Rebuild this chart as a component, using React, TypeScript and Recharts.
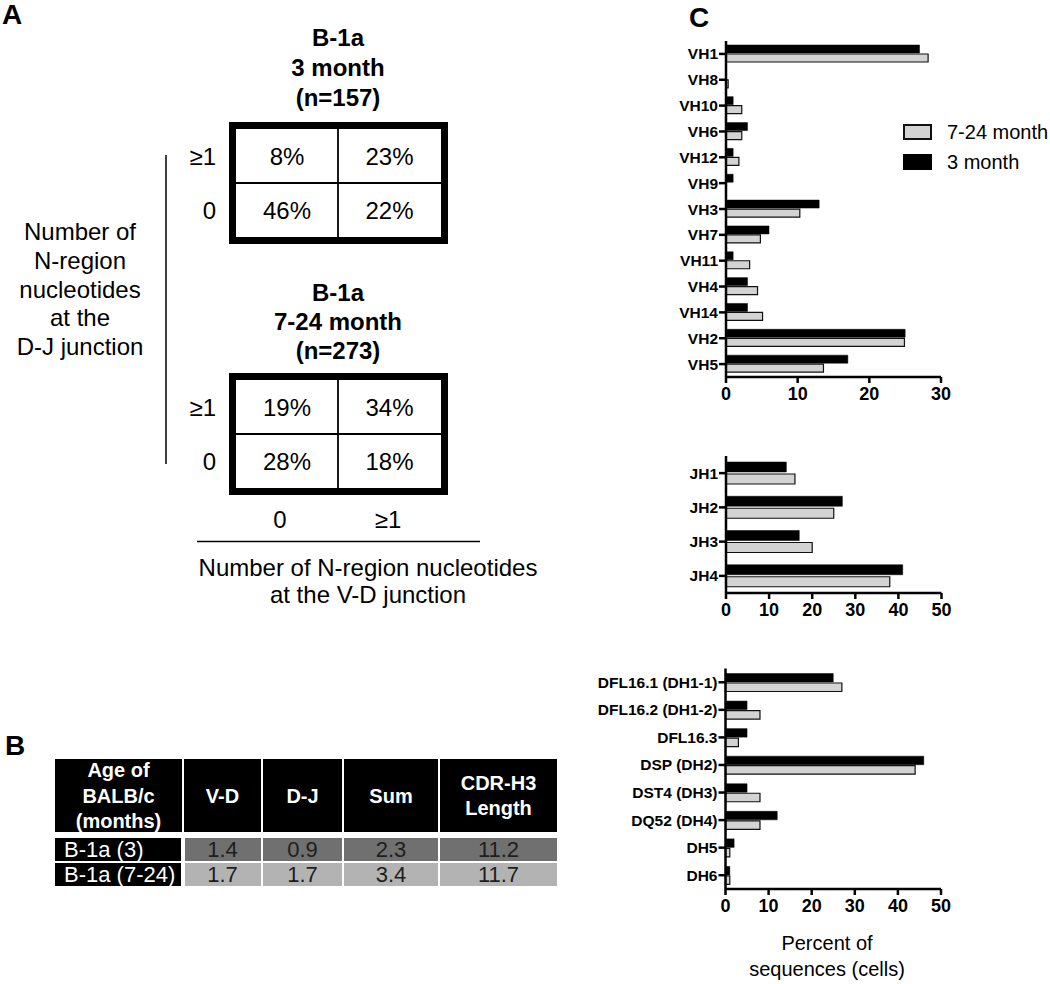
import { Bar, BarChart, XAxis, YAxis } from 'recharts';

const FONT = 'Arial, "Liberation Sans", Helvetica, sans-serif';

// panel C — percent of sequences per gene segment
const vhGenes = ['VH1', 'VH8', 'VH10', 'VH6', 'VH12', 'VH9', 'VH3', 'VH7', 'VH11', 'VH4', 'VH14', 'VH2', 'VH5'];
const vhYoung = [27, 0, 1, 3, 1, 1, 13, 6, 1, 3, 3, 25, 17];
const vhOld = [28.2, 0.3, 2.2, 2.2, 1.8, 0, 10.3, 4.8, 3.3, 4.4, 5.1, 24.9, 13.6];

const jhGenes = ['JH1', 'JH2', 'JH3', 'JH4'];
const jhYoung = [14, 27, 17, 41];
const jhOld = [16, 25, 20, 38];

const dhGenes = ['DFL16.1 (DH1-1)', 'DFL16.2 (DH1-2)', 'DFL16.3', 'DSP (DH2)', 'DST4 (DH3)', 'DQ52 (DH4)', 'DH5', 'DH6'];
const dhYoung = [25, 5, 5, 46, 5, 12, 2, 1];
const dhOld = [27, 8, 3, 44, 8, 8, 1, 1];

const seriesNames = ['7-24 month', '3 month'];

// panel A — junction tables
const junctionTitles = [
  ['B-1a', '3 month', '(n=157)'],
  ['B-1a', '7-24 month', '(n=273)'],
];
const junctionCells = [
  [['8%', '23%'], ['46%', '22%']],
  [['19%', '34%'], ['28%', '18%']],
];
const rowLabels = ['≥1', '0'];
const colLabels = ['0', '≥1'];
const djLabel = ['Number of', 'N-region', 'nucleotides', 'at the', 'D-J junction'];
const vdLabel = ['Number of N-region nucleotides', 'at the V-D junction'];

// panel B — mean N additions
const bHeaders = [['Age of', 'BALB/c', '(months)'], ['V-D'], ['D-J'], ['Sum'], ['CDR-H3', 'Length']];
const bRows = ['B-1a (3)', 'B-1a (7-24)'];
const bVD = [1.4, 1.7];
const bDJ = [0.9, 1.7];
const bSum = [2.3, 3.4];
const bCDR = [11.2, 11.7];

type GeneRow = { gene: string; young: number; old: number };

const toRows = (genes: string[], young: number[], old: number[]): GeneRow[] =>
  genes.map((gene, i) => ({ gene, young: young[i], old: old[i] }));

interface GenePlotProps {
  rows: GeneRow[];
  max: number;
  ticks: number[];
  left: number;
  top: number;
  width: number;
  height: number;
  yWidth: number;
  marginTop: number;
  marginRight: number;
  barSize: number;
  barGap: number;
}

const axisStroke = { stroke: '#000', strokeWidth: 2.5 };

const GenePlot = ({
  rows,
  max,
  ticks,
  left,
  top,
  width,
  height,
  yWidth,
  marginTop,
  marginRight,
  barSize,
  barGap,
}: GenePlotProps) => (
  <div style={{ position: 'absolute', left, top }}>
    <BarChart
      width={width}
      height={height}
      data={rows}
      layout='vertical'
      barSize={barSize}
      barGap={barGap}
      margin={{ top: marginTop, right: marginRight, left: 0, bottom: 0 }}
    >
      <XAxis
        type='number'
        domain={[0, max]}
        ticks={ticks}
        axisLine={axisStroke}
        tickLine={axisStroke}
        tickSize={6}
        tickMargin={4}
        height={30}
        tick={{ fill: '#000', fontSize: 18, fontWeight: 'bold', fontFamily: FONT }}
      />
      <YAxis
        type='category'
        dataKey='gene'
        width={yWidth}
        interval={0}
        axisLine={axisStroke}
        tickLine={axisStroke}
        tickSize={7}
        tickMargin={1}
        tick={{ fill: '#000', fontSize: 15.5, fontWeight: 'bold', fontFamily: FONT }}
      />
      <Bar dataKey='young' fill='#000' stroke='#000' strokeWidth={0.5} isAnimationActive={false} />
      <Bar dataKey='old' fill='#d3d3d3' stroke='#111' strokeWidth={1.2} isAnimationActive={false} />
    </BarChart>
  </div>
);

const PanelA = () => {
  const tableTops = [122, 373];
  const titleBase = [[46, 76, 106], [301, 330, 359]];
  return (
    <g fontFamily={FONT} fill='#000'>
      <text x={2} y={24} fontSize={28} fontWeight='bold'>A</text>
      {junctionTitles.map((lines, t) =>
        lines.map((line, i) => (
          <text key={`${t}-${i}`} x={338} y={titleBase[t][i]} fontSize={24} fontWeight='bold' textAnchor='middle'>
            {line}
          </text>
        )),
      )}
      {tableTops.map((y0, t) => {
        const mid = y0 + 61;
        return (
          <g key={t}>
            <rect x={232.5} y={y0 + 3.5} width={212} height={115} fill='#fff' stroke='#000' strokeWidth={7} />
            <line x1={338} x2={338} y1={y0 + 7} y2={y0 + 115} stroke='#000' strokeWidth={1.8} />
            <line x1={236} x2={441} y1={mid} y2={mid} stroke='#000' strokeWidth={1.8} />
            {junctionCells[t].map((row, r) => {
              const cy = r === 0 ? (y0 + 7 + mid) / 2 : (mid + y0 + 115) / 2;
              return (
                <g key={r}>
                  <text x={216} y={cy + 8.6} fontSize={24} textAnchor='end'>{rowLabels[r]}</text>
                  {row.map((v, c) => (
                    <text key={c} x={c === 0 ? 287 : 389.5} y={cy + 8.6} fontSize={24} textAnchor='middle'>
                      {v}
                    </text>
                  ))}
                </g>
              );
            })}
          </g>
        );
      })}
      <line x1={166} x2={166} y1={155} y2={464} stroke='#000' strokeWidth={1.5} />
      {djLabel.map((line, i) => (
        <text key={i} x={80} y={240 + i * 28.8} fontSize={24} textAnchor='middle'>{line}</text>
      ))}
      {colLabels.map((l, i) => (
        <text key={i} x={i === 0 ? 280 : 388} y={528} fontSize={24} textAnchor='middle'>{l}</text>
      ))}
      <line x1={197} x2={480} y1={541.5} y2={541.5} stroke='#000' strokeWidth={1.5} />
      {vdLabel.map((line, i) => (
        <text key={i} x={368} y={576 + i * 27} fontSize={24} textAnchor='middle'>{line}</text>
      ))}
    </g>
  );
};

const PanelB = () => {
  const cols = [
    [55, 182],
    [184, 261],
    [263, 342],
    [344, 438],
    [440, 557],
  ];
  const rowY = [[838, 861], [863, 886]];
  const rowFill = ['#707070', '#b3b3b3'];
  const values = [bVD, bDJ, bSum, bCDR];
  return (
    <g fontFamily={FONT}>
      <text x={5} y={755} fontSize={28} fontWeight='bold' fill='#000'>B</text>
      {cols.map(([x0, x1], c) => {
        const lines = bHeaders[c];
        const first = 795.5 - ((lines.length - 1) * 25.5) / 2;
        return (
          <g key={c}>
            <rect x={x0} y={759} width={x1 - x0} height={73} fill='#000' />
            {lines.map((l, i) => (
              <text
                key={i}
                x={(x0 + x1) / 2}
                y={first + i * 25.5 + 7.2}
                fontSize={20}
                fontWeight='bold'
                fill='#fff'
                textAnchor='middle'
              >
                {l}
              </text>
            ))}
          </g>
        );
      })}
      {bRows.map((label, r) => {
        const [y0, y1] = rowY[r];
        const cy = (y0 + y1) / 2;
        return (
          <g key={r}>
            <rect x={55} y={y0} width={126} height={y1 - y0} fill='#000' />
            <text x={64} y={cy + 7.8} fontSize={22} fill='#fff'>{label}</text>
            {values.map((vals, c) => {
              const [x0, x1] = cols[c + 1];
              const xs = c === 0 ? x0 + 1 : x0;
              return (
                <g key={c}>
                  <rect x={xs} y={y0} width={x1 - xs} height={y1 - y0} fill={rowFill[r]} />
                  <text x={(x0 + x1) / 2} y={cy + 7.8} fontSize={22} fill='#1e1e1e' textAnchor='middle'>
                    {vals[r].toFixed(1)}
                  </text>
                </g>
              );
            })}
          </g>
        );
      })}
    </g>
  );
};

const PanelCOverlay = () => (
  <g fontFamily={FONT} fill='#000'>
    <text x={689} y={27} fontSize={28} fontWeight='bold'>C</text>
    <rect x={904} y={125} width={27} height={14} fill='#d3d3d3' stroke='#111' strokeWidth={2} />
    <rect x={903} y={154} width={29} height={16} fill='#000' />
    <text x={947} y={139} fontSize={20}>{seriesNames[0]}</text>
    <text x={947} y={168.5} fontSize={20}>{seriesNames[1]}</text>
    <text x={827} y={950} fontSize={20} textAnchor='middle'>Percent of</text>
    <text x={827} y={976} fontSize={20} textAnchor='middle'>sequences (cells)</text>
  </g>
);

export default function App() {
  return (
    <div
      style={{
        position: 'absolute',
        left: 0,
        top: 0,
        width: 1050,
        height: 984,
        background: '#fff',
        fontFamily: FONT,
      }}
    >
      <svg width={1050} height={984} style={{ position: 'absolute', left: 0, top: 0 }}>
        <PanelA />
        <PanelB />
        <PanelCOverlay />
      </svg>
      <GenePlot
        rows={toRows(vhGenes, vhYoung, vhOld)}
        max={30}
        ticks={[0, 10, 20, 30]}
        left={620}
        top={30}
        width={340}
        height={377}
        yWidth={106}
        marginTop={11}
        marginRight={19}
        barSize={8}
        barGap={1}
      />
      <GenePlot
        rows={toRows(jhGenes, jhYoung, jhOld)}
        max={50}
        ticks={[0, 10, 20, 30, 40, 50]}
        left={620}
        top={440}
        width={340}
        height={183}
        yWidth={106}
        marginTop={16}
        marginRight={18.5}
        barSize={10}
        barGap={2}
      />
      <GenePlot
        rows={toRows(dhGenes, dhYoung, dhOld)}
        max={50}
        ticks={[0, 10, 20, 30, 40, 50]}
        left={560}
        top={650}
        width={400}
        height={269}
        yWidth={165.5}
        marginTop={18.5}
        marginRight={19}
        barSize={8.5}
        barGap={1}
      />
    </div>
  );
}
